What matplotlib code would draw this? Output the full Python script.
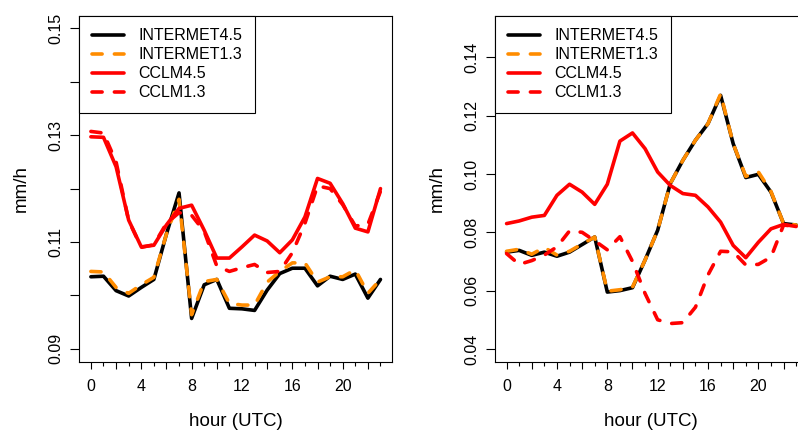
import numpy as np
import matplotlib
matplotlib.use("Agg")
import matplotlib.pyplot as plt

plt.rcParams['font.family'] = ['Liberation Sans', 'DejaVu Sans']

hours = np.arange(24)

# left panel (mm/h)
int45_L = [0.1035, 0.1036, 0.1009, 0.0999, 0.1015, 0.1030, 0.1115, 0.1192, 0.0957, 0.1020, 0.1030, 0.0976,
           0.0975, 0.0972, 0.1010, 0.1041, 0.1051, 0.1051, 0.1018, 0.1036, 0.1030, 0.1040, 0.0995, 0.1030]
int13_L = [0.1045, 0.1044, 0.1015, 0.1004, 0.1020, 0.1034, 0.1115, 0.1180, 0.0964, 0.1026, 0.1030, 0.0985,
           0.0982, 0.0982, 0.1025, 0.1045, 0.1061, 0.1061, 0.1025, 0.1035, 0.1035, 0.1048, 0.1004, 0.1030]
cclm45_L = [0.1297, 0.1296, 0.1241, 0.1141, 0.1091, 0.1094, 0.1132, 0.1163, 0.1169, 0.1122, 0.1070, 0.1070,
            0.1091, 0.1113, 0.1102, 0.1080, 0.1104, 0.1147, 0.1219, 0.1210, 0.1172, 0.1126, 0.1119, 0.1200]
cclm13_L = [0.1307, 0.1304, 0.1250, 0.1140, 0.1090, 0.1095, 0.1135, 0.1155, 0.1150, 0.1120, 0.1055, 0.1045,
            0.1052, 0.1058, 0.1043, 0.1045, 0.1080, 0.1135, 0.1205, 0.1200, 0.1170, 0.1130, 0.1133, 0.1195]

# right panel (mm/h)
int45_R = [0.0732, 0.0738, 0.0721, 0.0732, 0.0718, 0.0732, 0.0758, 0.0784, 0.0595, 0.0600, 0.0610, 0.0705,
           0.0807, 0.0967, 0.1047, 0.1116, 0.1173, 0.1270, 0.1104, 0.0988, 0.0999, 0.0938, 0.0830, 0.0825]
int13_R = [0.0735, 0.0742, 0.0725, 0.0748, 0.0722, 0.0735, 0.0760, 0.0784, 0.0598, 0.0603, 0.0612, 0.0705,
           0.0807, 0.0967, 0.1047, 0.1116, 0.1173, 0.1275, 0.1104, 0.0992, 0.1007, 0.0940, 0.0830, 0.0825]
cclm45_R = [0.0830, 0.0839, 0.0852, 0.0858, 0.0927, 0.0965, 0.0938, 0.0896, 0.0965, 0.1113, 0.1141, 0.1087,
            0.1007, 0.0961, 0.0933, 0.0927, 0.0887, 0.0835, 0.0755, 0.0713, 0.0766, 0.0812, 0.0827, 0.0820]
cclm13_R = [0.0727, 0.0690, 0.0703, 0.0722, 0.0750, 0.0805, 0.0800, 0.0771, 0.0740, 0.0785, 0.0700, 0.0590,
            0.0500, 0.0487, 0.0490, 0.0543, 0.0654, 0.0735, 0.0733, 0.0688, 0.0690, 0.0715, 0.0825, 0.0820]

labels = ['INTERMET4.5', 'INTERMET1.3', 'CCLM4.5', 'CCLM1.3']
dash = (2.8, 3.4)


def panel(ax, series, ylim, yticks, ylabels):
    styles = [('black', None), ('darkorange', dash), ('red', None), ('red', dash)]
    for y, (c, d), lab in zip(series, styles, labels):
        line, = ax.plot(hours, y, color=c, lw=2.6, label=lab,
                        solid_capstyle='round', dash_capstyle='round', solid_joinstyle='round')
        if d:
            line.set_dashes(d)
    pad = (ylim[1] - ylim[0]) * 0.04
    ax.set_ylim(ylim[0] - pad, ylim[1] + pad)
    ax.set_xlim(-0.92, 23.92)
    ax.set_xticks(np.arange(0, 24, 2))
    ax.set_xticklabels([str(h) if h % 4 == 0 else '' for h in range(0, 24, 2)])
    ax.set_xticks(np.arange(1, 24, 2), minor=True)
    ax.set_yticks(yticks)
    ax.set_yticklabels(ylabels, rotation=90, va='center')
    ax.tick_params(axis='x', which='major', length=4.8, width=0.8, labelsize=11.5, pad=8)
    ax.tick_params(axis='x', which='minor', length=3, width=0.8)
    ax.tick_params(axis='y', length=6.5, width=0.8, labelsize=11.5, pad=5)
    for s in ax.spines.values():
        s.set_linewidth(0.8)
    ax.set_xlabel('hour (UTC)', fontsize=13.5, labelpad=13)
    ax.set_ylabel('mm/h', fontsize=13.5, labelpad=13)
    ax.legend(loc='upper left', borderaxespad=0, fancybox=False, framealpha=1,
              edgecolor='black', fontsize=11.5, handlelength=2.0, handletextpad=0.9,
              borderpad=0.8, labelspacing=0.25).get_frame().set_linewidth(0.8)


fig = plt.figure(figsize=(7.98, 4.32), dpi=100)
ax1 = fig.add_axes([0.0994, 0.1627, 0.3919, 0.8014])
ax2 = fig.add_axes([0.6203, 0.1627, 0.3919, 0.8014])

yt1 = np.round(np.arange(0.09, 0.1501, 0.01), 2)
panel(ax1, [int45_L, int13_L, cclm45_L, cclm13_L], (0.09, 0.15), yt1,
      ['%.2f' % v if i % 2 == 0 else '' for i, v in enumerate(yt1)])
yt2 = np.round(np.arange(0.04, 0.1401, 0.02), 2)
panel(ax2, [int45_R, int13_R, cclm45_R, cclm13_R], (0.04, 0.15), yt2,
      ['%.2f' % v for v in yt2])

fig.savefig('out.png', dpi=100)
